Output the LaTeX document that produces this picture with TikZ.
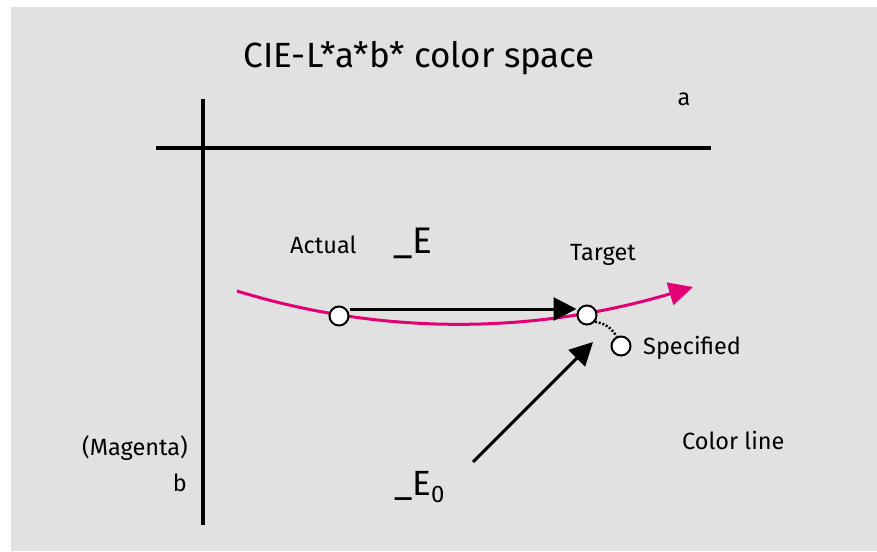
\documentclass[tikz,border=0pt]{standalone}
\usepackage{fontspec}
\setmainfont{Fira Sans}
\usetikzlibrary{arrows.meta}
\definecolor{bggray}{HTML}{E1E1E1}
\definecolor{tmagenta}{HTML}{E20074}
\begin{document}
\begin{tikzpicture}[x=1pt,y=-1pt,
  lbl/.style={inner sep=0pt,font=\fontsize{23.5}{28}\selectfont},
  dot/.style={circle,draw=black,fill=white,line width=2pt,minimum size=19pt,inner sep=0pt},
  axis/.style={line width=4pt,black},
  blackarrow/.style={line width=3pt,black,-{Triangle[length=23pt,width=23pt]}},
  magline/.style={line width=3pt,tmagenta,-{Triangle[length=24pt,width=23pt]}}]
\useasboundingbox (0,0) rectangle (877,551);
\fill[bggray] (11,7) rectangle (877,551);
% axes
\coordinate (vtop) at (203,99);
\coordinate (vbot) at (203,525);
\coordinate (hl) at (156,148);
\coordinate (hr) at (711,148);
\draw[axis] (vtop) -- (vbot);
\draw[axis] (hl) -- (hr);
% title and labels
\node[lbl,anchor=base,font=\fontsize{35}{40}\selectfont] (title) at (419.5,67) {CIE-L*a*b* color space};
\node[lbl,anchor=base] (alab) at (684,105) {a};
\node[lbl,anchor=base west] (actual) at (290,253) {Actual};
\node[lbl,anchor=base west,font=\fontsize{37}{40}\selectfont] (dE) at (393,253) {\_E};
\node[lbl,anchor=base west] (target) at (570,260) {Target};
\node[lbl,anchor=base west] (specl) at (643,354) {Specified};
\node[lbl,anchor=base west] (cline) at (682,449) {Color line};
\node[lbl,anchor=base east] (mag) at (188,455) {(Magenta)};
\node[lbl,anchor=base east] (blab) at (187,491) {b};
\node[lbl,anchor=base west,font=\fontsize{35}{40}\selectfont] (dE0) at (394,495) {\_E\raisebox{-7pt}{\fontsize{24}{28}\selectfont 0}};
% color line
\coordinate (cstart) at (237,291);
\coordinate (cend) at (693,287);
\draw[magline] (cstart) .. controls (382,335.7) and (534,334.3) .. (cend);
% points
\node[dot] (act) at (339,316) {};
\node[dot] (tgt) at (587,315) {};
\node[dot] (spec) at (621,346) {};
% arrows
\draw[blackarrow] ([yshift=7pt]act.east) -- ([yshift=6pt]tgt.west);
\draw[line width=2.5pt,dash pattern=on 2pt off 1.8pt] (tgt.-40) to[bend left=25] (spec.115);
\coordinate (e0start) at (473,462);
\coordinate (e0tip) at (593,342);
\draw[blackarrow] (e0start) -- (e0tip);
\end{tikzpicture}
\end{document}
